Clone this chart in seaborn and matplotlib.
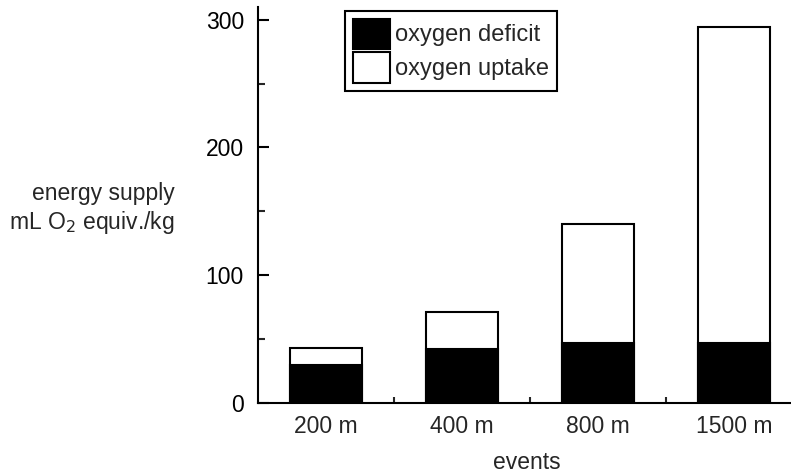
import matplotlib
matplotlib.use("Agg")
import matplotlib.pyplot as plt
from matplotlib.patches import Patch
import pandas as pd
import seaborn as sns

events = ["200 m", "400 m", "800 m", "1500 m"]
deficit = [30, 42, 47, 47]
uptake = [13, 29, 93, 247]

df = pd.DataFrame({"events": events, "deficit": deficit, "uptake": uptake})
df["total"] = df["deficit"] + df["uptake"]

sns.set_style("ticks")
plt.rcParams["font.family"] = ["Liberation Sans", "DejaVu Sans"]
fs = 16.5

fig = plt.figure(figsize=(7.91, 4.75), dpi=100)
# right edge of the plot runs off the figure, as in the original
ax = fig.add_axes([0.326, 0.1516, 0.674, 0.834])

sns.barplot(data=df, x="events", y="total", color="white", edgecolor="black",
            linewidth=1.5, width=0.53, saturation=1, ax=ax)
sns.barplot(data=df, x="events", y="deficit", color="black", edgecolor="black",
            linewidth=1.5, width=0.53, saturation=1, ax=ax)

ax.set_xlim(-0.5, 3.42)
ax.set_ylim(0, 310)
ax.set_yticks([0, 100, 200, 300])
ax.set_yticks([50, 150, 250], minor=True)
ax.set_xticks([0.5, 1.5, 2.5], minor=True)

for s in ["top", "right"]:
    ax.spines[s].set_visible(False)
for s in ["left", "bottom"]:
    ax.spines[s].set_linewidth(1.5)
    ax.spines[s].set_color("black")

ax.tick_params(axis="y", which="major", direction="in", length=8, width=1.5,
               labelsize=fs, colors="black", pad=10)
ax.tick_params(axis="y", which="minor", direction="in", length=5, width=1.5)
ax.tick_params(axis="x", which="major", length=0, labelsize=fs, pad=9)
ax.tick_params(axis="x", which="minor", direction="in", length=4, width=1.5)

ax.set_xlabel("events", fontsize=fs)
ax.xaxis.set_label_coords(0.505, -0.12)
ax.set_ylabel("energy supply\nmL O$_2$ equiv./kg", fontsize=fs, rotation=0,
              ha="right", va="center", multialignment="right")
ax.yaxis.set_label_coords(-0.156, 0.49)

handles = [Patch(facecolor="black", edgecolor="black", linewidth=1.5),
           Patch(facecolor="white", edgecolor="black", linewidth=1.5)]
leg = ax.legend(handles, ["oxygen deficit", "oxygen uptake"], loc="upper left",
                bbox_to_anchor=(0.163, 0.99), fontsize=17, frameon=True,
                fancybox=False, framealpha=1, edgecolor="black",
                handlelength=1.6, handleheight=1.6, labelspacing=0.15,
                handletextpad=0.2, borderpad=0.33, borderaxespad=0)
leg.get_frame().set_linewidth(1.5)

fig.savefig("out.png", dpi=100)
